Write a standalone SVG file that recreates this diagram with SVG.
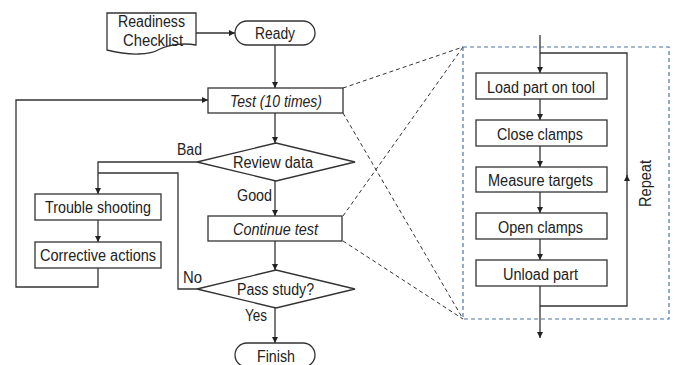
<svg xmlns="http://www.w3.org/2000/svg" width="675" height="365" viewBox="0 0 675 365">
<style>
.s{fill:#fff;stroke:#333;stroke-width:1.3}
.c{fill:none;stroke:#333;stroke-width:1.3}
.d{fill:none;stroke:#333;stroke-width:1;stroke-dasharray:4 3}
.b{fill:none;stroke:#4f74a8;stroke-width:1.2;stroke-dasharray:4 3}
text{font-family:"Liberation Sans",Arial,sans-serif;font-size:16px;fill:#222;text-anchor:middle}
.i{font-style:italic}
</style>
<defs>
<marker id="a" viewBox="0 0 10 10" refX="10" refY="5" markerWidth="6" markerHeight="6" markerUnits="userSpaceOnUse" orient="auto"><path d="M0,0 L10,5 L0,10 Z" fill="#222"/></marker>
</defs>
<g id="connectors">
<line class="c" x1="196" y1="33" x2="235" y2="33" marker-end="url(#a)"/>
<line class="c" x1="275" y1="45" x2="275" y2="88" marker-end="url(#a)"/>
<line class="c" x1="275" y1="113" x2="275" y2="143" marker-end="url(#a)"/>
<line class="c" x1="275" y1="181" x2="275" y2="216" marker-end="url(#a)"/>
<line class="c" x1="275" y1="241" x2="275" y2="270" marker-end="url(#a)"/>
<line class="c" x1="275" y1="307" x2="275" y2="343" marker-end="url(#a)"/>
<polyline class="c" points="197,162 98,162 98,194" marker-end="url(#a)"/>
<line class="c" x1="98" y1="220" x2="98" y2="242" marker-end="url(#a)"/>
<polyline class="c" points="98,268 98,287 16,287 16,100 208,100" marker-end="url(#a)"/>
<polyline class="c" points="197,289 178,289 178,173 98,173"/>
<line class="d" x1="343" y1="88" x2="463" y2="47"/>
<line class="d" x1="343" y1="113" x2="463" y2="319"/>
<line class="d" x1="343" y1="216" x2="463" y2="47"/>
<line class="d" x1="343" y1="241" x2="463" y2="319"/>
<rect class="b" x="463" y="47" width="206" height="272"/>
<line class="c" x1="540" y1="35" x2="540" y2="73" marker-end="url(#a)"/>
<line class="c" x1="540" y1="99" x2="540" y2="120" marker-end="url(#a)"/>
<line class="c" x1="540" y1="146" x2="540" y2="167" marker-end="url(#a)"/>
<line class="c" x1="540" y1="192" x2="540" y2="213" marker-end="url(#a)"/>
<line class="c" x1="540" y1="239" x2="540" y2="260" marker-end="url(#a)"/>
<line class="c" x1="540" y1="286" x2="540" y2="338" marker-end="url(#a)"/>
<polyline class="c" points="540,306 627,306 627,175" marker-end="url(#a)"/>
<polyline class="c" points="627,176 627,53 540,53"/>
<text x="189.5" y="155" textLength="25" lengthAdjust="spacingAndGlyphs">Bad</text>
<text x="254.5" y="201" textLength="35" lengthAdjust="spacingAndGlyphs">Good</text>
<text x="192.5" y="283" textLength="19" lengthAdjust="spacingAndGlyphs">No</text>
<text x="256" y="321" textLength="22" lengthAdjust="spacingAndGlyphs">Yes</text>
<text transform="translate(651,183.5) rotate(-90)" textLength="47" lengthAdjust="spacingAndGlyphs">Repeat</text>
</g>
<g id="readiness">
<path class="s" d="M107,13 H196 V45 C185,43 170,44 160,49 C150,55 130,56 107,50 Z"/>
<text x="151.5" y="27" textLength="67" lengthAdjust="spacingAndGlyphs">Readiness</text>
<text x="153" y="46" textLength="60" lengthAdjust="spacingAndGlyphs">Checklist</text>
</g>
<g id="ready"><rect class="s" x="235" y="21" width="80" height="24" rx="12"/><text x="275" y="39" textLength="40" lengthAdjust="spacingAndGlyphs">Ready</text></g>
<g id="test"><rect class="s" x="208" y="88" width="135" height="25"/><text class="i" x="276" y="107" textLength="92" lengthAdjust="spacingAndGlyphs">Test (10 times)</text></g>
<g id="review"><polygon class="s" points="197,162 276,143 355,162 276,181"/><text x="273" y="168" textLength="80" lengthAdjust="spacingAndGlyphs">Review data</text></g>
<g id="trouble"><rect class="s" x="35" y="194" width="126" height="26"/><text x="98" y="213" textLength="106" lengthAdjust="spacingAndGlyphs">Trouble shooting</text></g>
<g id="corrective"><rect class="s" x="35" y="242" width="126" height="26"/><text x="98" y="261" textLength="116" lengthAdjust="spacingAndGlyphs">Corrective actions</text></g>
<g id="continue"><rect class="s" x="208" y="216" width="134" height="25"/><text class="i" x="275.5" y="235" textLength="85" lengthAdjust="spacingAndGlyphs">Continue test</text></g>
<g id="pass"><polygon class="s" points="197,289 276,270 355,289 276,308"/><text x="275.5" y="295" textLength="77" lengthAdjust="spacingAndGlyphs">Pass study?</text></g>
<g id="finish"><rect class="s" x="235" y="343" width="80" height="24" rx="12"/><text x="276" y="362" textLength="38" lengthAdjust="spacingAndGlyphs">Finish</text></g>
<g id="load"><rect class="s" x="476" y="73" width="131" height="26"/><text x="541" y="92.5" textLength="108" lengthAdjust="spacingAndGlyphs">Load part on tool</text></g>
<g id="close"><rect class="s" x="476" y="120" width="131" height="26"/><text x="540" y="139.5" textLength="86" lengthAdjust="spacingAndGlyphs">Close clamps</text></g>
<g id="measure"><rect class="s" x="476" y="167" width="131" height="25"/><text x="540.5" y="186" textLength="105" lengthAdjust="spacingAndGlyphs">Measure targets</text></g>
<g id="open"><rect class="s" x="476" y="213" width="131" height="26"/><text x="540.5" y="232.5" textLength="85" lengthAdjust="spacingAndGlyphs">Open clamps</text></g>
<g id="unload"><rect class="s" x="476" y="260" width="131" height="26"/><text x="540.5" y="279.5" textLength="75" lengthAdjust="spacingAndGlyphs">Unload part</text></g>
</svg>
